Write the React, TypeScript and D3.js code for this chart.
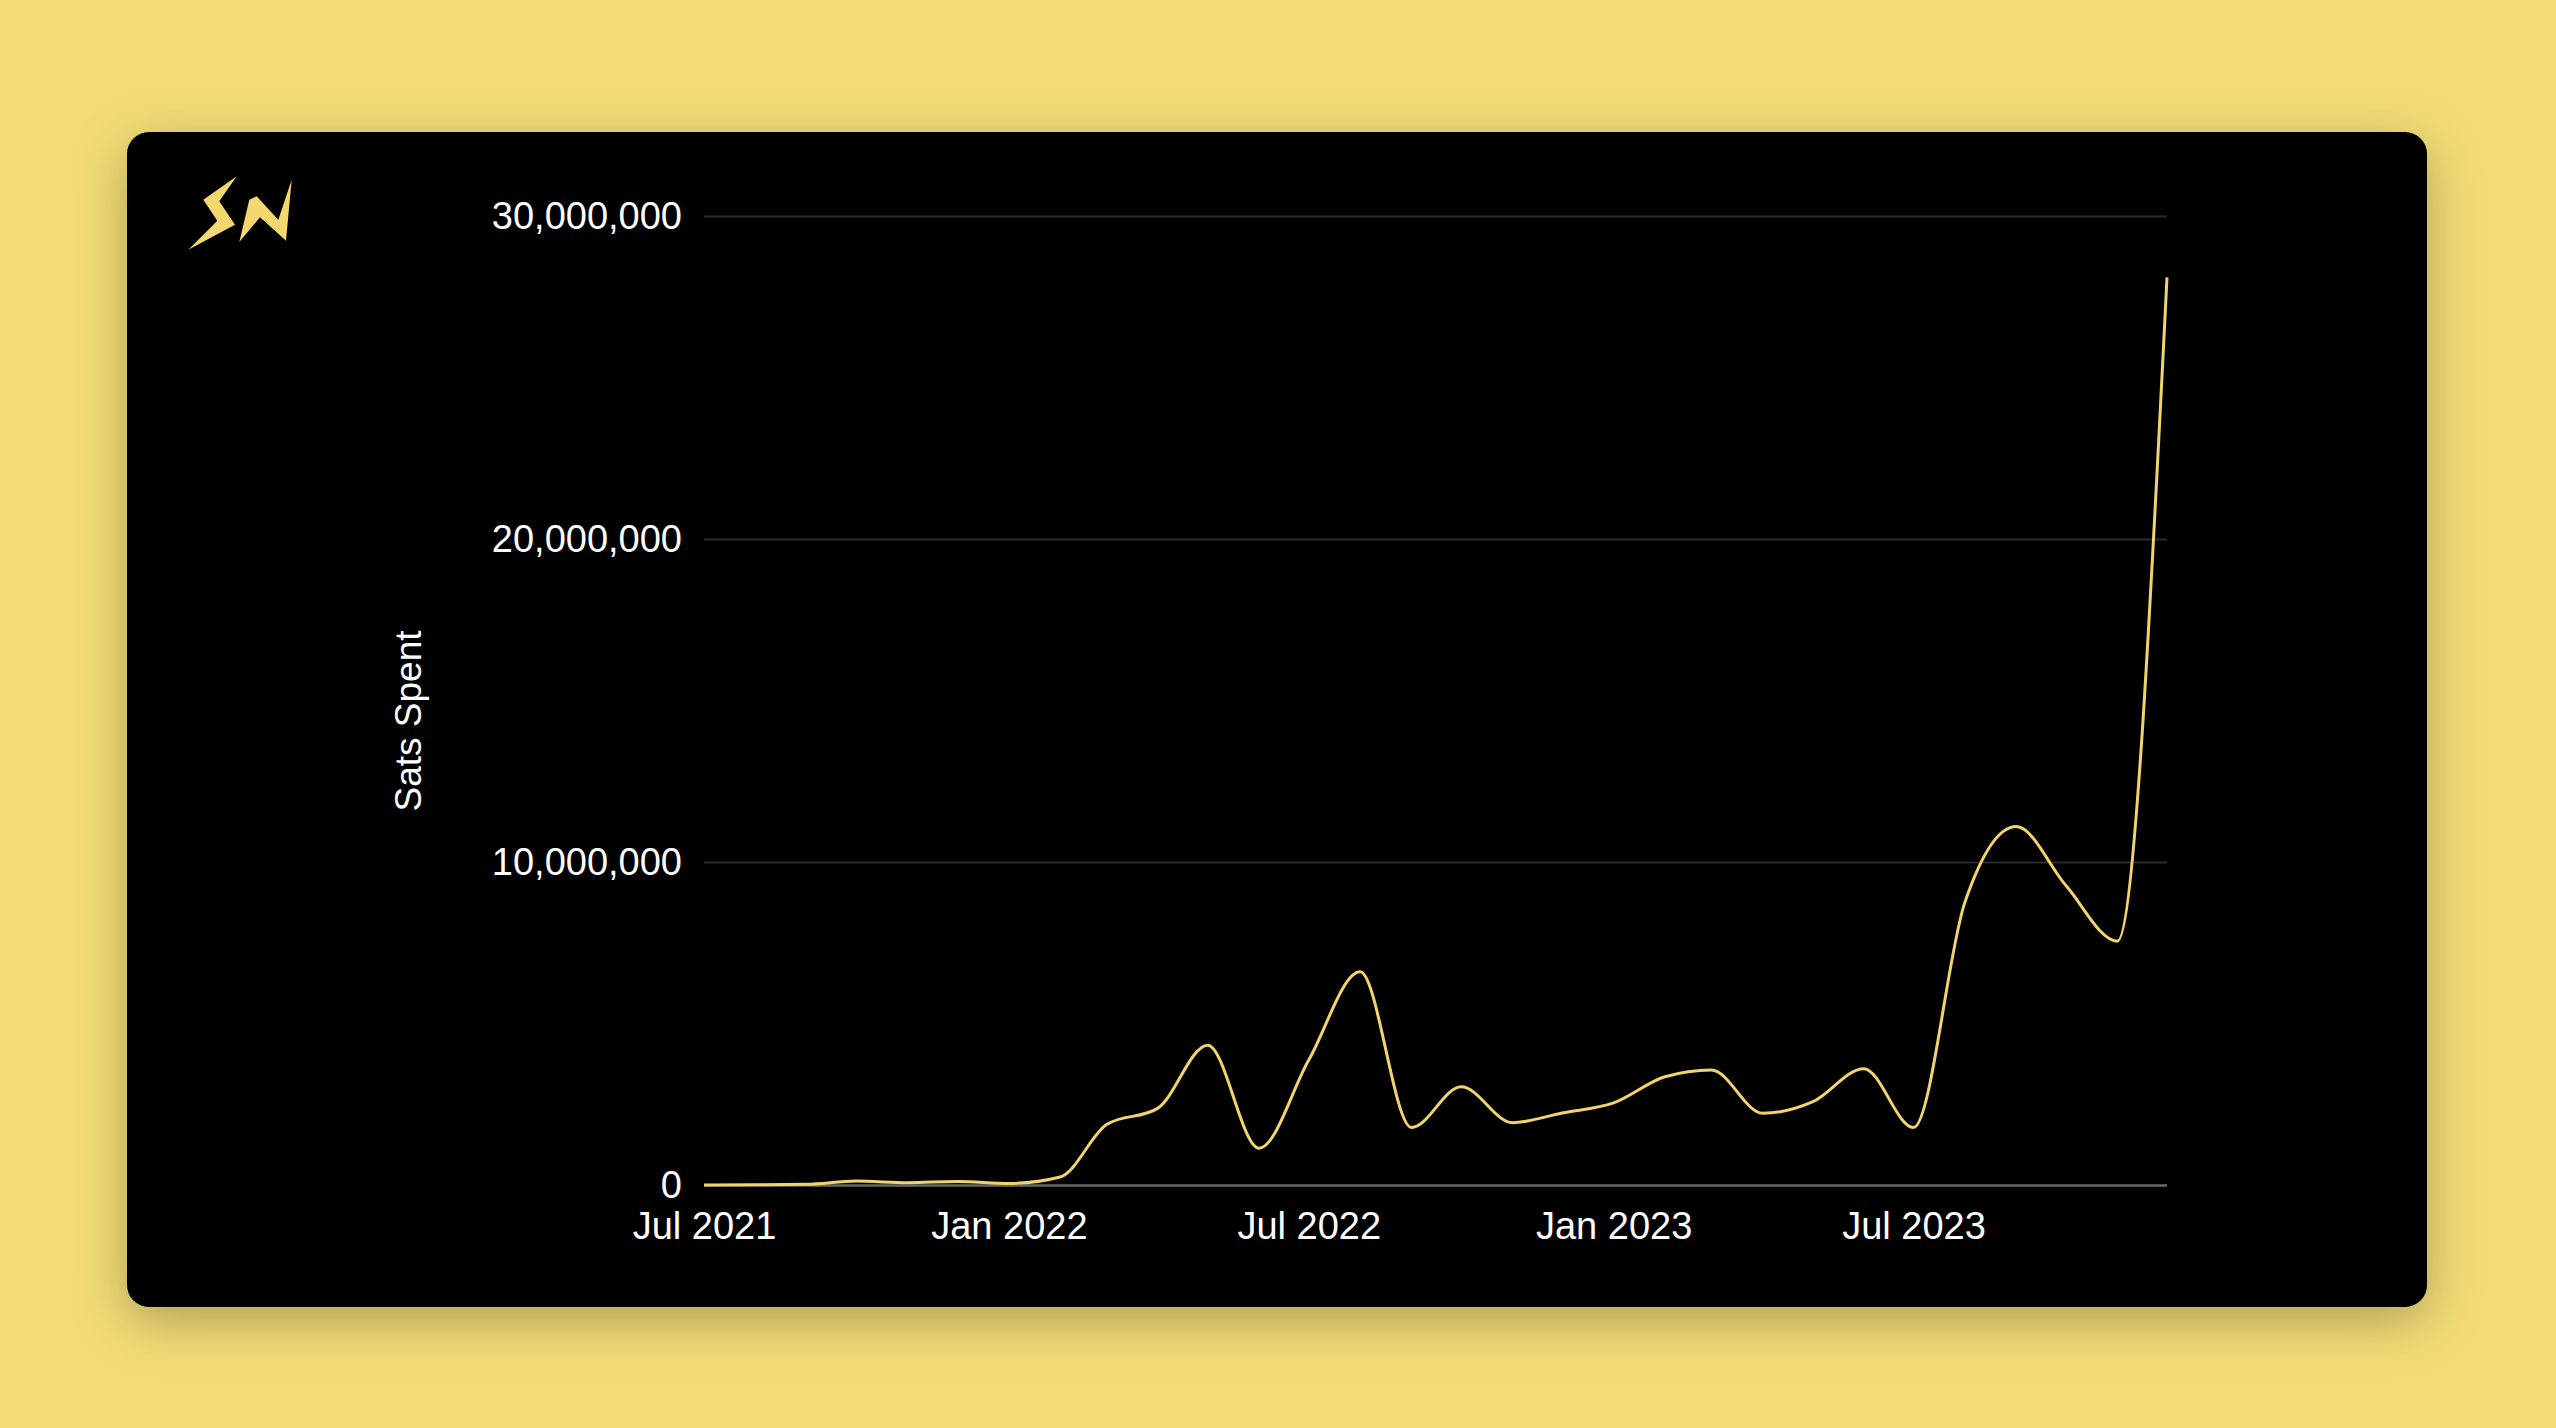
import { useEffect, useRef } from "react";
import * as d3 from "d3";

// monthly sats spent, Jul 2021 .. Dec 2023
const months = [
  "2021-07", "2021-08", "2021-09", "2021-10", "2021-11", "2021-12",
  "2022-01", "2022-02", "2022-03", "2022-04", "2022-05", "2022-06",
  "2022-07", "2022-08", "2022-09", "2022-10", "2022-11", "2022-12",
  "2023-01", "2023-02", "2023-03", "2023-04", "2023-05", "2023-06",
  "2023-07", "2023-08", "2023-09", "2023-10", "2023-11", "2023-12",
];
const satsSpent = [
  0, 5000, 20000, 120000, 70000, 110000,
  50000, 250000, 1870000, 2380000, 4330000, 1140000,
  3870000, 6600000, 1780000, 3040000, 1930000, 2230000,
  2540000, 3350000, 3560000, 2220000, 2570000, 3600000,
  1780000, 8750000, 11100000, 9270000, 7550000, 28100000,
];
const yTicks = [0, 10000000, 20000000, 30000000];
const xTicks = ["2021-07", "2022-01", "2022-07", "2023-01", "2023-07"];
const yLabel = "Sats Spent";

const W = 2556;
const H = 1428;
const FONT = "'Liberation Sans', Arial, Helvetica, sans-serif";

const App = () => {
  const svgRef = useRef(null);

  useEffect(() => {
    if (!svgRef.current) return;
    const svg = d3.select(svgRef.current);
    svg.selectAll("*").remove();

    const parse = d3.timeParse("%Y-%m");
    const data = months.map((m, i) => ({ date: parse(m), value: satsSpent[i] }));

    const left = 704;
    const right = 2167;
    const top = 216;
    const bottom = 1185;

    // background + card
    const defs = svg.append("defs");
    const f = defs
      .append("filter")
      .attr("id", "shadow")
      .attr("x", "-10%")
      .attr("y", "-10%")
      .attr("width", "120%")
      .attr("height", "125%");
    f.append("feDropShadow")
      .attr("dx", 0)
      .attr("dy", 14)
      .attr("stdDeviation", 26)
      .attr("flood-color", "#000")
      .attr("flood-opacity", 0.28);

    svg.append("rect").attr("width", W).attr("height", H).attr("fill", "#f3dc76");
    svg
      .append("rect")
      .attr("x", 127)
      .attr("y", 132)
      .attr("width", 2300)
      .attr("height", 1175)
      .attr("rx", 22)
      .attr("fill", "#000")
      .attr("filter", "url(#shadow)");

    // SN logo
    const logo = svg.append("g").attr("fill", "#f3d86f");
    logo
      .append("polygon")
      .attr("points", "236.7,176.3 203.3,199.7 217.3,220.7 188.3,249.7 235,224.7 219.3,201.3");
    logo
      .append("polygon")
      .attr("points", "239.3,242 249.3,199.7 256.7,196.3 278.3,219.7 291.7,179.7 286,240.7 260,217.3");

    const x = d3
      .scaleTime()
      .domain(d3.extent(data, (d) => d.date))
      .range([left, right]);
    const y = d3.scaleLinear().domain([0, 30000000]).range([bottom, top]);

    // y axis with grid
    const yAxis = d3
      .axisLeft(y)
      .tickValues(yTicks)
      .tickSize(-(right - left))
      .tickPadding(22)
      .tickFormat(d3.format(","));
    const gy = svg.append("g").attr("transform", `translate(${left},0)`).call(yAxis);
    gy.select(".domain").remove();
    gy.selectAll(".tick line")
      .attr("stroke", (d) => (d === 0 ? "#686868" : "#2a2a2a"))
      .attr("stroke-width", (d) => (d === 0 ? 2.5 : 2));
    gy.selectAll(".tick text")
      .attr("fill", "#fff")
      .attr("font-family", FONT)
      .attr("font-size", 38);

    // x axis
    const xAxis = d3
      .axisBottom(x)
      .tickValues(xTicks.map((t) => parse(t)))
      .tickSize(0)
      .tickPadding(27)
      .tickFormat(d3.timeFormat("%b %Y"));
    const gx = svg.append("g").attr("transform", `translate(0,${bottom})`).call(xAxis);
    gx.select(".domain").remove();
    gx.selectAll(".tick text")
      .attr("fill", "#fff")
      .attr("font-family", FONT)
      .attr("font-size", 38);

    // y label
    svg
      .append("text")
      .attr("transform", `translate(421,721) rotate(-90)`)
      .attr("text-anchor", "middle")
      .attr("fill", "#fff")
      .attr("font-family", FONT)
      .attr("font-size", 37)
      .text(yLabel);

    // line
    const line = d3
      .line()
      .x((d) => x(d.date))
      .y((d) => y(d.value))
      .curve(d3.curveMonotoneX);
    svg
      .append("path")
      .datum(data)
      .attr("fill", "none")
      .attr("stroke", "#f2d46c")
      .attr("stroke-width", 3)
      .attr("d", line);
  }, []);

  return (
    <svg
      ref={svgRef}
      width={W}
      height={H}
      style={{ position: "absolute", top: 0, left: 0, display: "block" }}
    />
  );
};

export default App;
